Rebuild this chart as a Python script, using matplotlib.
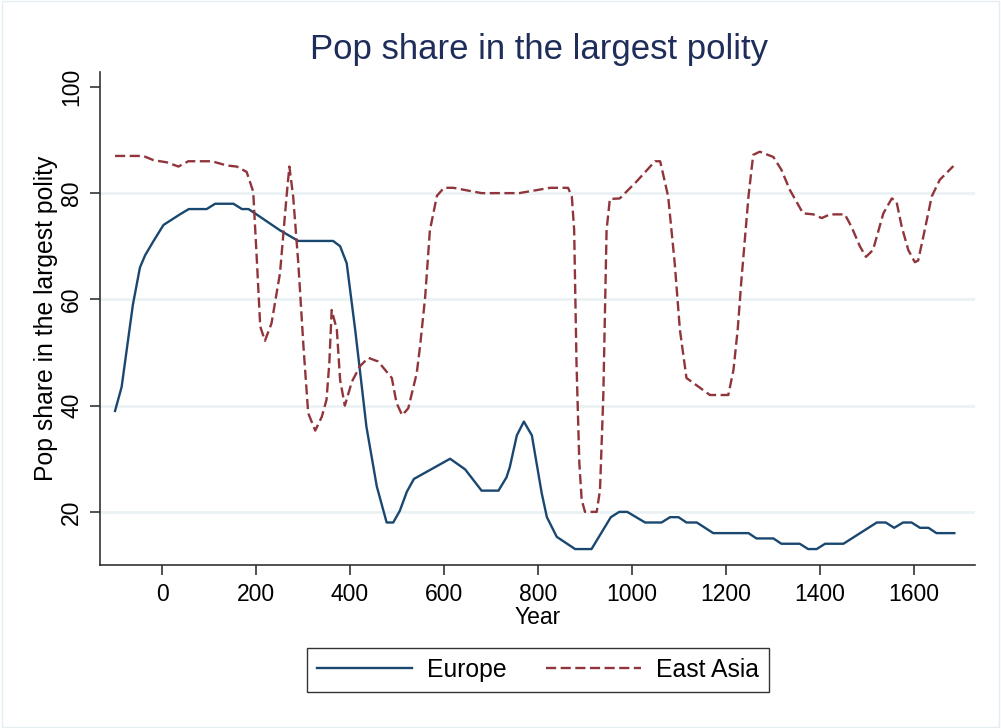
"""Pop share in the largest polity: Europe vs East Asia."""

import matplotlib.pyplot as plt
from matplotlib.patches import Rectangle

plt.rcParams["font.family"] = ["Liberation Sans", "DejaVu Sans"]

# values
europe_year = [-100, -86, -62, -47, -36, -18, 3, 38, 57, 95, 113, 152, 170, 184,
               201, 251, 290, 364, 379, 393, 411, 421, 435, 446, 457, 478, 492,
               506, 521, 536, 613, 645, 680, 716, 733, 740, 755, 770, 787, 797,
               808, 819, 840, 879, 914, 955, 973, 990, 1028, 1063, 1081, 1099,
               1116, 1138, 1173, 1248, 1265, 1301, 1318, 1357, 1375, 1393, 1411,
               1450, 1521, 1540, 1558, 1577, 1595, 1613, 1631, 1648, 1686]
europe_share = [39, 43.5, 59, 66, 68.3, 71, 74, 76, 77, 77, 78, 78, 77, 77,
                76, 73, 71, 71, 70, 66.8, 54.3, 46.7, 36, 30.4, 24.8, 18, 18,
                20.2, 23.8, 26.2, 30, 28, 24, 24, 26.5, 28.4, 34.4, 37, 34.4, 29.2,
                23.5, 19, 15.3, 13, 13, 19, 20, 20, 18, 18, 19, 19,
                18, 18, 16, 16, 15, 15, 14, 14, 13, 13, 14,
                14, 18, 18, 17, 18, 18, 17, 17, 16, 16]

asia_year = [-100, -40, -18, 10, 35, 56, 106, 138, 159, 180, 194, 201, 209, 219,
             233, 251, 265, 271, 279, 290, 301, 311, 326, 340, 350, 356, 361, 372,
             379, 389, 404, 421, 439, 460, 489, 499, 511, 524, 542, 549, 560, 570,
             585, 600, 620, 680, 760, 826, 864, 872, 877, 882, 888, 893, 900,
             925, 932, 939, 946, 953, 974, 1010, 1049, 1060, 1077, 1091, 1102,
             1116, 1166, 1205, 1216, 1225, 1233, 1248, 1258, 1272, 1301, 1318,
             1336, 1364, 1386, 1404, 1421, 1453, 1467, 1485, 1498, 1513, 1535,
             1553, 1563, 1574, 1588, 1602, 1609, 1620, 1638, 1655, 1684]
asia_share = [87, 87, 86.2, 85.8, 85, 86, 86, 85.2, 85, 84, 80.3, 68.7, 54.9, 52.2,
              55.5, 64.9, 79.4, 85, 79.4, 66.8, 51.1, 38.6, 35.3, 37.9, 41.1, 48, 58, 54.3,
              44.8, 40, 44.5, 47.4, 49, 48.3, 45.2, 40.5, 38.2, 39.5, 46.1, 51.1, 60.5, 73,
              79.5, 81, 81, 80, 80, 81, 81, 79.4, 73.1, 48, 29.2, 22.3, 20,
              20, 24.1, 41.7, 73.1, 78.9, 79, 82.2, 86, 86, 79.4, 66.8, 54.3,
              45.2, 42, 42, 46.7, 54.3, 63.7, 79.4, 87.2, 87.8, 86.8, 84.4,
              80.6, 76.2, 76, 75.3, 76, 76, 73.7, 70, 68, 69.3, 76.2,
              79, 78.4, 73.7, 69.3, 67, 67.3, 71.8, 79.4, 82.5, 85.1]

y_ticks = [20, 40, 60, 80, 100]
x_ticks = [0, 200, 400, 600, 800, 1000, 1200, 1400, 1600]

EUROPE_COLOR = "#1a476f"
ASIA_COLOR = "#90353b"
GRID_COLOR = "#eaf2f3"
TITLE_COLOR = "#1e2d5a"


def main():
    fig = plt.figure(figsize=(10.01, 7.28), dpi=100)
    ax = fig.add_axes([100 / 1001, 163 / 728, 875 / 1001, 493 / 728])

    # faint outer frame like Stata's graph region
    fig.patches.append(Rectangle((0.002, 0.002), 0.996, 0.996, transform=fig.transFigure,
                                 fill=False, edgecolor="#e4eef0", linewidth=1.0))

    for v in y_ticks[:-1]:
        ax.axhline(v, color=GRID_COLOR, linewidth=2.0, zorder=0)

    ax.plot(europe_year, europe_share, color=EUROPE_COLOR, linewidth=1.7,
            label="Europe", zorder=3)
    ax.plot(asia_year, asia_share, color=ASIA_COLOR, linewidth=1.7,
            linestyle=(0, (4.3, 1.9)), label="East Asia", zorder=3)

    ax.set_xlim(-132, 1730)
    ax.set_ylim(10, 102.8)
    ax.set_xticks(x_ticks)
    ax.set_yticks(y_ticks)

    for side in ("top", "right"):
        ax.spines[side].set_visible(False)
    for side in ("left", "bottom"):
        ax.spines[side].set_color("#333333")
        ax.spines[side].set_linewidth(1.2)

    ax.tick_params(axis="both", direction="out", length=7, width=1.2,
                   color="#333333", labelsize=16.5, labelcolor="black", pad=6)
    ax.tick_params(axis="y", pad=5)
    for lbl in ax.get_yticklabels():
        lbl.set_rotation(90)
        lbl.set_va("center")

    ax.set_xlabel("Year", fontsize=16.5, labelpad=0)
    ax.set_ylabel("Pop share in the largest polity", fontsize=17.8, labelpad=1.5)
    fig.text(539 / 1001, 1 - 59 / 728, "Pop share in the largest polity", ha="center",
             va="baseline", fontsize=25, color=TITLE_COLOR)

    leg = fig.legend(loc="center", bbox_to_anchor=(538 / 1001, 1 - 670 / 728), ncol=2,
                     fontsize=17.8, frameon=True, fancybox=False, edgecolor="black",
                     handlelength=3.85, columnspacing=1.6, handletextpad=0.6,
                     borderpad=0.4)
    leg.get_frame().set_linewidth(1.0)

    fig.savefig("out.png", dpi=100, facecolor="white")


if __name__ == "__main__":
    main()
